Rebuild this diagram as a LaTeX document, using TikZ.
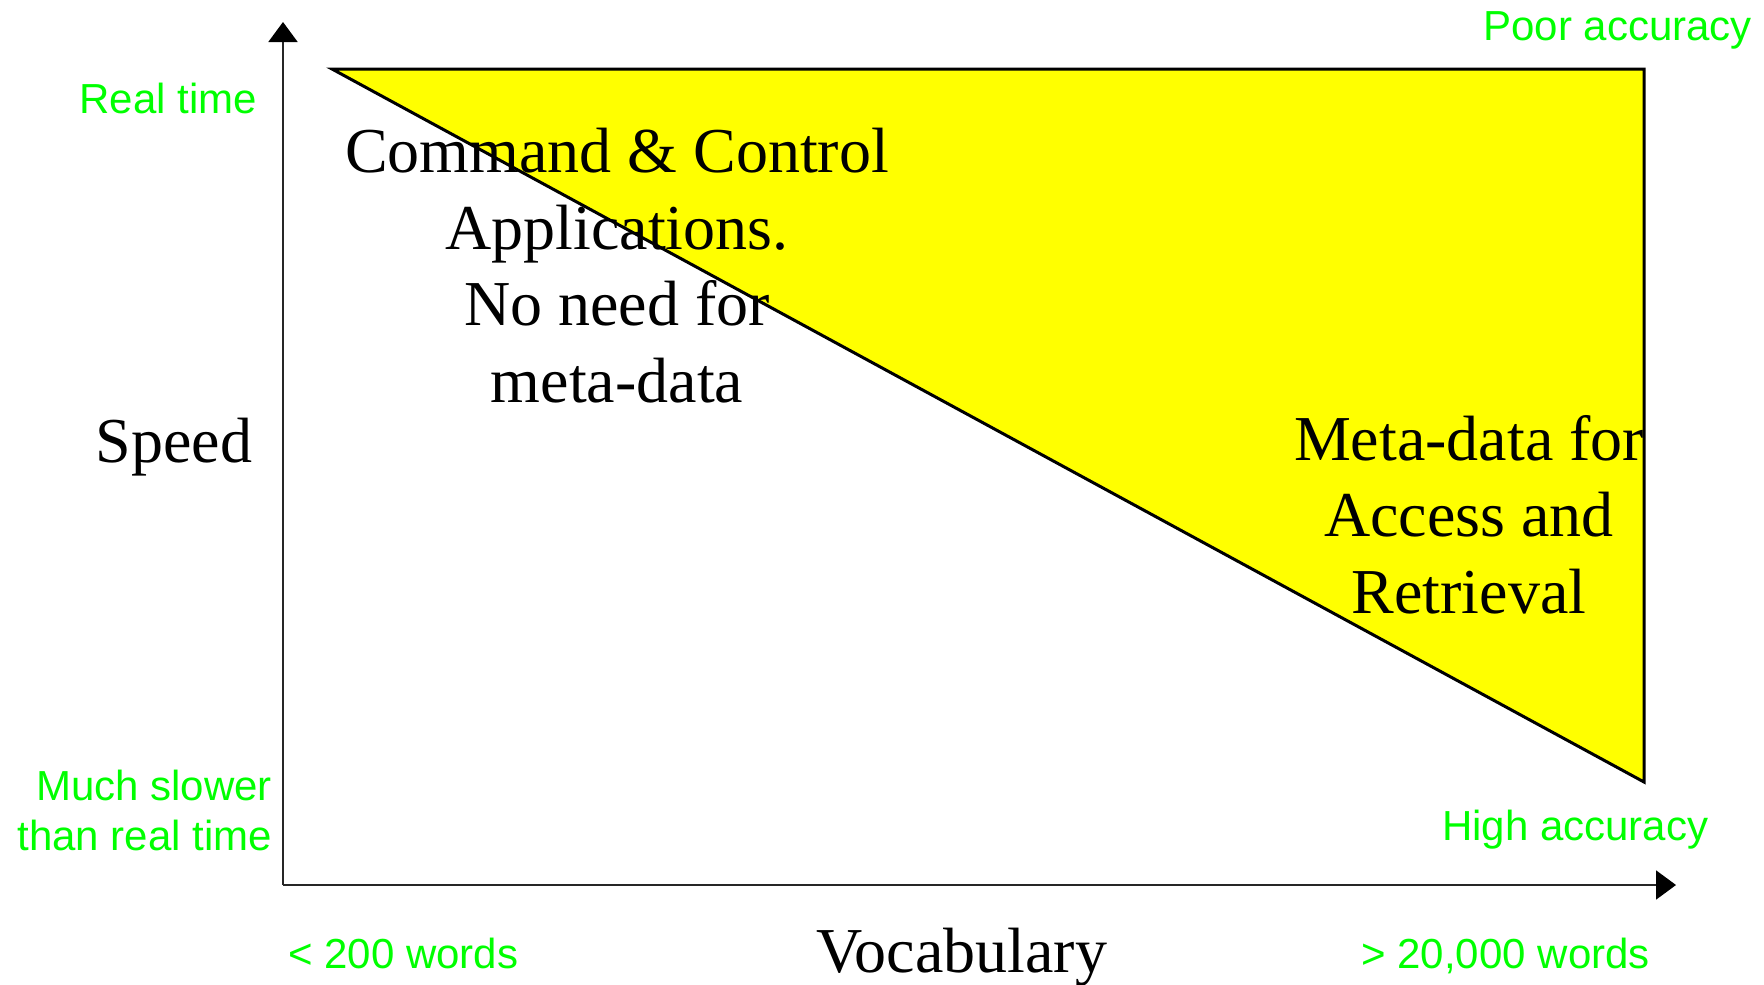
\documentclass[tikz,border=0pt]{standalone}
\usepackage{fontspec}
\setmainfont{Liberation Serif}
\newfontfamily\arialf{Liberation Sans}
\usetikzlibrary{arrows.meta}
\definecolor{lgreen}{RGB}{0,255,0}
\definecolor{tyellow}{RGB}{255,255,0}
\begin{document}
\begin{tikzpicture}[x=1pt,y=-1pt,
  glabel/.style={inner sep=0pt, text=lgreen, font=\arialf\fontsize{42}{50}\selectfont},
  blabel/.style={inner sep=0pt, text=black, font=\fontsize{64}{76.5}\selectfont, align=center},
  axis/.style={line width=2pt, draw=black!85, -{Triangle[length=20pt,width=29pt,color=black]}}]
\useasboundingbox (0,0) rectangle (1764,985);
\coordinate (O) at (283,885);
\coordinate (ytip) at (283,22);
\coordinate (xtip) at (1676,885);
\draw[axis] (O) -- (ytip);
\draw[axis] (O) -- (xtip);
\coordinate (A) at (332,69);
\coordinate (B) at (1644,69);
\coordinate (C) at (1644,782);
\path[fill=tyellow, draw=black, line width=3pt] (A) -- (B) -- (C) -- cycle;
\node[glabel, anchor=base east] (realtime) at (257,113) {Real time};
\node[glabel, anchor=base east] (poor) at (1752,40) {Poor accuracy};
\node[glabel, anchor=base east, align=right] (slow) at (272,850) {Much slower\\than real time};
\node[glabel, anchor=base west] (high) at (1442,840) {High accuracy};
\node[glabel, anchor=base west] (few) at (288,968) {< 200 words};
\node[glabel, anchor=base east] (many) at (1650,968) {> 20,000 words};
\node[blabel, anchor=base] (vocab) at (962,972) {Vocabulary};
\node[blabel, anchor=base] (speed) at (174,462) {Speed};
\node[blabel, anchor=base] (cc) at (617,402) {Command \& Control\\Applications.\\No need for\\meta-data};
\node[blabel, anchor=base] (md) at (1469,613) {Meta-data for\\Access and\\Retrieval};
\end{tikzpicture}
\end{document}
